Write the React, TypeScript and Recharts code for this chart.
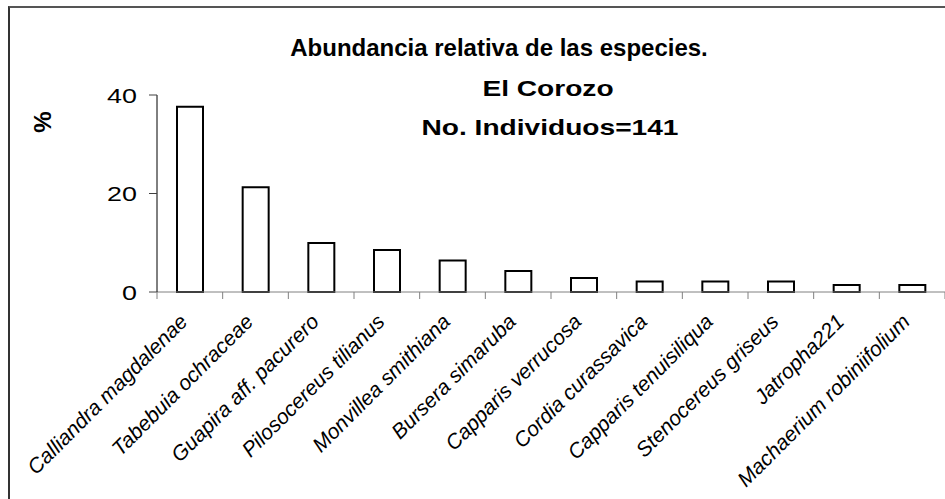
import { Bar, BarChart, Customized, XAxis, YAxis } from "recharts";

const species = [
  "Calliandra magdalenae",
  "Tabebuia ochraceae",
  "Guapira aff. pacurero",
  "Pilosocereus tilianus",
  "Monvillea smithiana",
  "Bursera simaruba",
  "Capparis verrucosa",
  "Cordia curassavica",
  "Capparis tenuisiliqua",
  "Stenocereus griseus",
  "Jatropha221",
  "Machaerium robiniifolium",
];

const abundance = [37.59, 21.28, 9.93, 8.51, 6.38, 4.26, 2.84, 2.13, 2.13, 2.13, 1.42, 1.42];

const yTicks = [0, 20, 40];

const titleLines = [
  "Abundancia relativa de las especies.",
  "El Corozo",
  "No. Individuos=141",
];

const W = 945;
const H = 499;
const M = { top: 95, right: 0, bottom: 0, left: 0 };
const Y_AXIS_W = 157;
const X_AXIS_H = 207;
const FONT = "'Liberation Sans', Arial, sans-serif";

const data = species.map((name, i) => ({ name, value: abundance[i] }));
const bandW = (W - M.left - M.right - Y_AXIS_W) / species.length;

function SpeciesTick(props: any) {
  const { x, y, payload, index } = props;
  const left = x - bandW / 2;
  return (
    <g>
      <line x1={left} y1={y} x2={left} y2={y + 7} stroke="#808080" strokeWidth={1} />
      {index === species.length - 1 && (
        <line x1={left + bandW} y1={y} x2={left + bandW} y2={y + 7} stroke="#808080" />
      )}
      <g transform={`translate(${x - 1},${y + 31})`}>
        <text
          x={0}
          y={0}
          textAnchor="end"
          transform="rotate(-45)"
          fontStyle="italic"
          fontSize={21}
          fontFamily={FONT}
          fill="#000"
        >
          {payload.value}
        </text>
      </g>
    </g>
  );
}

function PercentTick(props: any) {
  const { x, y, payload } = props;
  return (
    <g transform={`translate(${x},${y}) scale(1.28,1)`}>
      <text
        x={0}
        y={0}
        dy="0.36em"
        textAnchor="end"
        fontSize={21}
        fontFamily={FONT}
        fill="#000"
      >
        {payload.value}
      </text>
    </g>
  );
}

function Titles() {
  return (
    <g fontFamily={FONT} fontWeight="bold" fill="#000">
      <text x={499} y={56} fontSize={24} textAnchor="middle">
        {titleLines[0]}
      </text>
      <g transform="translate(548,96) scale(1.25,1)">
        <text x={0} y={0} fontSize={22.5} textAnchor="middle">
          {titleLines[1]}
        </text>
      </g>
      <g transform="translate(550,135) scale(1.25,1)">
        <text x={0} y={0} fontSize={22.5} textAnchor="middle">
          {titleLines[2]}
        </text>
      </g>
      <text
        x={42}
        y={122}
        fontSize={24}
        textAnchor="middle"
        dominantBaseline="central"
        transform="rotate(-90 42 122)"
      >
        %
      </text>
    </g>
  );
}

export default function App() {
  return (
    <div
      style={{
        position: "absolute",
        left: 0,
        top: 0,
        width: W,
        height: H,
        overflow: "hidden",
        background: "#fff",
      }}
    >
      <div
        style={{
          position: "absolute",
          left: 8,
          top: 6,
          width: W + 20,
          height: H + 20,
          borderLeft: "2px solid #333",
          borderTop: "2px solid #555",
        }}
      />
      <div style={{ position: "absolute", left: 0, top: 0 }}>
        <BarChart width={W} height={H} data={data} margin={M}>
          <XAxis
            dataKey="name"
            interval={0}
            height={X_AXIS_H}
            tickSize={0}
            tickLine={false}
            tickMargin={0}
            axisLine={{ stroke: "#808080", strokeWidth: 1 }}
            tick={<SpeciesTick />}
          />
          <YAxis
            width={Y_AXIS_W}
            domain={[0, 40]}
            ticks={yTicks}
            tickSize={8}
            tickMargin={12}
            axisLine={{ stroke: "#000", strokeWidth: 1 }}
            tickLine={{ stroke: "#404040" }}
            tick={<PercentTick />}
          />
          <Bar
            dataKey="value"
            barSize={26}
            fill="#fff"
            stroke="#000"
            strokeWidth={2}
            isAnimationActive={false}
          />
          <Customized component={Titles} />
        </BarChart>
      </div>
    </div>
  );
}
